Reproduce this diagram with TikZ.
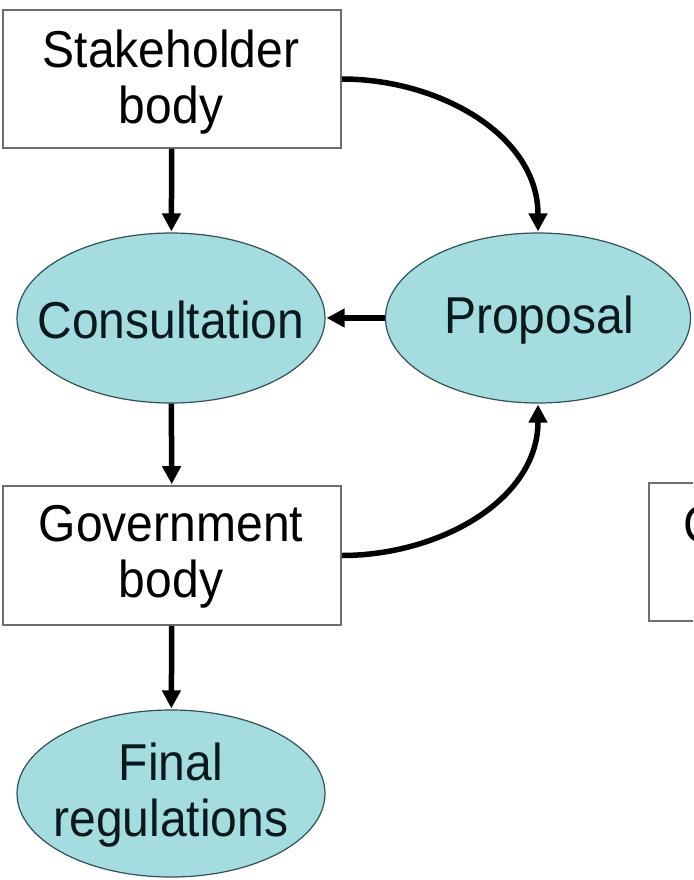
\documentclass[tikz,border=0pt]{standalone}
\usepackage{fontspec}
\setmainfont{Liberation Sans}
\usetikzlibrary{shapes.geometric,arrows.meta}
\definecolor{ovalfill}{RGB}{165,220,224}
\definecolor{ovaledge}{RGB}{50,80,85}
\definecolor{boxedge}{RGB}{110,110,110}
\definecolor{ovaltext}{RGB}{10,25,30}
\newcommand{\bigtext}{\fontsize{48}{56}\selectfont}
\tikzset{
  boxnode/.style={draw=boxedge, line width=1.6pt, rectangle, minimum width=338pt, minimum height=138pt, inner sep=0pt},
  ovalnode/.style={draw=ovaledge, line width=1.2pt, ellipse, fill=ovalfill, minimum width=308pt, minimum height=170pt, inner sep=0pt},
  labeltext/.style={inner sep=0pt, align=center, font=\bigtext},
  ovallabel/.style={labeltext, text=ovaltext},
  flow/.style={line width=5.5pt, -{Triangle[length=18pt,width=18pt]}, shorten >=1pt}
}
\begin{document}
\begin{tikzpicture}[x=1pt,y=-1pt]
\useasboundingbox (0,0) rectangle (693,880);
\clip (0,0) rectangle (693,880);
\node[boxnode] (stake) at (172,79) {};
\node[labeltext] (stakelabel) at (171,82) {\scalebox{1}[1.08]{Stakeholder}\\\scalebox{1}[1.08]{body}};
\node[ovalnode] (cons) at (171,318) {};
\node[ovallabel] (conslabel) at (171,320) {\scalebox{1}[1.08]{Consultation}};
\node[ovalnode, minimum width=305pt] (prop) at (538,318) {};
\node[ovallabel] (proplabel) at (539,320) {\scalebox{1}[1.08]{Proposal}};
\node[boxnode, minimum height=139pt] (gov) at (172,555.5) {};
\node[labeltext] (govlabel) at (171,557) {\scalebox{1}[1.08]{Government}\\\scalebox{1}[1.08]{body}};
\node[ovalnode, minimum height=167pt] (final) at (171,793.5) {};
\node[ovallabel] (finallabel) at (171,795) {\scalebox{1}[1.08]{Final}\\\scalebox{1}[1.08]{regulations}};
\node[boxnode, anchor=north west, minimum height=138pt] (other) at (648,482) {};
\node[anchor=base west, inner sep=0pt, font=\bigtext] (otherlabel) at (683,542) {\scalebox{1}[1.08]{C}};
\draw[flow] (stake) -- (cons);
\draw[flow] (cons) -- (gov);
\draw[flow] (gov) -- (final);
\draw[flow] (prop) -- (cons);
\draw[flow] (stake.east) to[out=0,in=90] (prop.north);
\draw[flow] (gov.east) to[out=0,in=-90] (prop.south);
\end{tikzpicture}
\end{document}
